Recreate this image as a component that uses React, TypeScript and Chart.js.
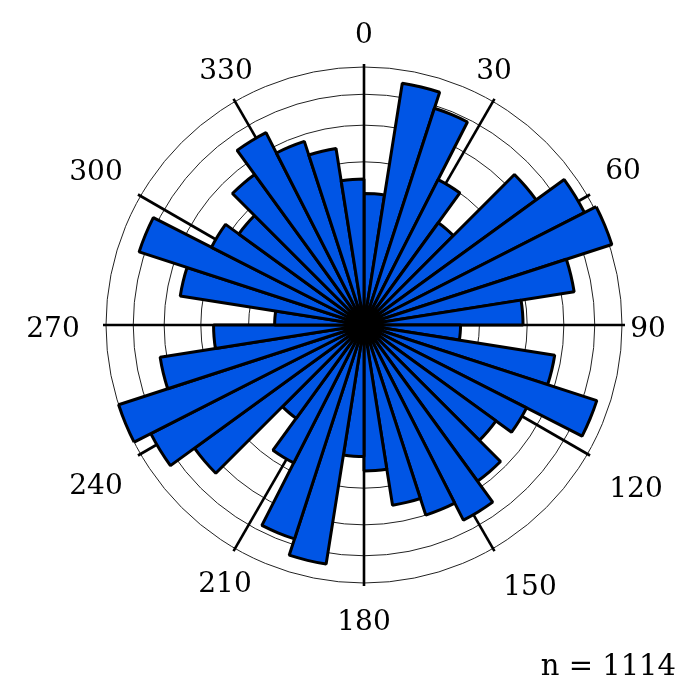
import { useEffect, useRef } from 'react';
import { Chart, registerables } from 'chart.js';

Chart.register(...registerables);

// 40 direction bins of 9 degrees, clockwise from north
const binStarts = Array.from({ length: 40 }, (_, i) => i * 9);
const binLabels = binStarts.map((s) => `${s}–${s + 9}°`);

// counts per bin (sum = 1114)
const counts = [
  13, 45, 39, 20, 12, 34, 46, 51, 34, 19,
  7, 28, 45, 25, 20, 28, 36, 30, 25, 16,
  13, 44, 38, 18, 10, 33, 43, 50, 32, 17,
  6, 26, 42, 22, 18, 26, 35, 28, 24, 16,
];

// equal-area rings (counts)
const ringCounts = [10, 20, 30, 40, 50];
const ringMax = 50;

// compass labels
const compassAngles = [0, 30, 60, 90, 120, 150, 180, 210, 240, 270, 300, 330];
const compassLabels = compassAngles.map((a) => String(a));

const sampleSize = 1114;

const compassPlugin = {
  id: 'compassAxes',
  beforeDatasetsDraw(chart: any) {
    const s = chart.scales.r;
    const ctx = chart.ctx;
    const len = s.drawingArea + 3;
    ctx.save();
    ctx.strokeStyle = '#000';
    ctx.lineWidth = 2.6;
    ctx.lineCap = 'butt';
    compassAngles.forEach((deg) => {
      const t = (deg * Math.PI) / 180;
      ctx.beginPath();
      ctx.moveTo(s.xCenter, s.yCenter);
      ctx.lineTo(s.xCenter + len * Math.sin(t), s.yCenter - len * Math.cos(t));
      ctx.stroke();
    });
    ctx.restore();
  },
  afterDatasetsDraw(chart: any) {
    const s = chart.scales.r;
    const ctx = chart.ctx;
    // label centre offsets from the polar centre, in the same order as compassAngles
    const place: [number, number][] = [
      [0, -292], [130, -256], [259, -156], [284, 2], [272, 162], [166, 260],
      [0, 295], [-139, 257], [-268, 159], [-311, 2], [-268, -155], [-138, -256],
    ];
    const fs = 28;
    ctx.save();
    ctx.fillStyle = '#000';
    ctx.font = `${fs}px "DejaVu Serif"`;
    ctx.textAlign = 'center';
    ctx.textBaseline = 'alphabetic';
    compassLabels.forEach((lab, i) => {
      const [dx, dy] = place[i];
      ctx.fillText(lab, s.xCenter + dx, s.yCenter + dy + fs * 0.729 / 2);
    });
    ctx.font = '29px "DejaVu Serif"';
    ctx.textAlign = 'right';
    ctx.fillText(`n = ${sampleSize}`, chart.width - 16, chart.height - 17);
    ctx.restore();
  },
};

export default function App() {
  const ref = useRef<HTMLCanvasElement | null>(null);
  useEffect(() => {
    if (!ref.current) return;
    const chart = new Chart(ref.current, {
      type: 'polarArea',
      data: {
        labels: binLabels,
        datasets: [
          {
            data: counts.map((c) => Math.sqrt(c)),
            backgroundColor: '#0055E5',
            borderColor: '#000',
            borderWidth: 3,
          },
        ],
      },
      options: {
        responsive: false,
        animation: false,
        layout: { padding: { left: 106, right: 70, top: 67, bottom: 109 } },
        plugins: {
          legend: { display: false },
          tooltip: { enabled: false },
        },
        scales: {
          r: {
            min: 0,
            max: Math.sqrt(ringMax),
            startAngle: 0,
            ticks: { display: false },
            pointLabels: { display: false },
            angleLines: { display: false },
            grid: { circular: true, color: '#222', lineWidth: 1 },
            afterBuildTicks: (scale: any) => {
              scale.ticks = [0, ...ringCounts].map((c) => ({ value: Math.sqrt(c) }));
            },
          },
        },
      },
      plugins: [compassPlugin],
    });
    return () => chart.destroy();
  }, []);
  return (
    <div style={{ position: 'absolute', left: 0, top: 0, width: 692, height: 692, background: '#fff' }}>
      <canvas ref={ref} width={692} height={692} style={{ display: 'block' }} />
    </div>
  );
}
